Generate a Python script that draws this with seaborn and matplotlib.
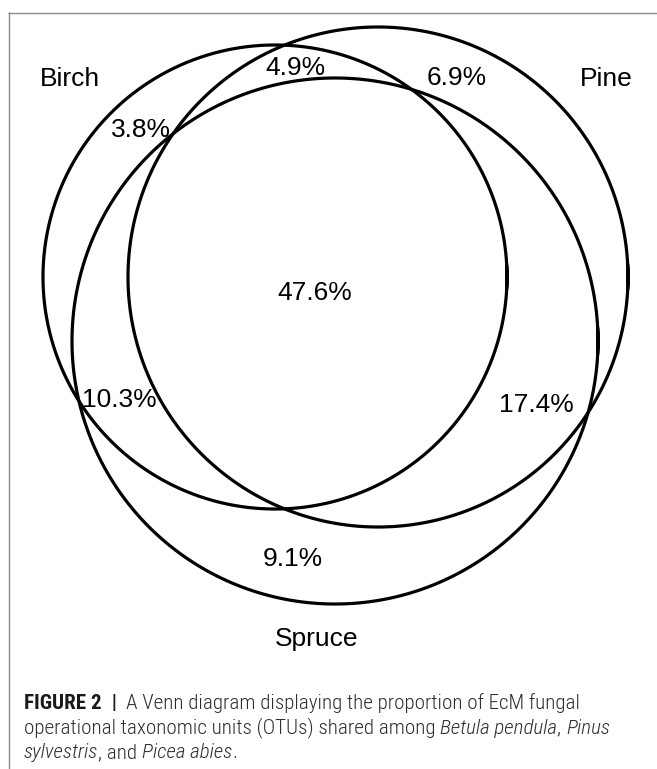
import numpy as np
import pandas as pd
import matplotlib
matplotlib.use("Agg")
import matplotlib.pyplot as plt
import seaborn as sns
from matplotlib import font_manager

# ---------------- data ----------------
set_names = ["Birch", "Pine", "Spruce"]
region_labels = ["Birch only", "Birch & Pine", "Pine only", "All three",
                 "Birch & Spruce", "Pine & Spruce", "Spruce only"]
region_values = [3.8, 4.9, 6.9, 47.6, 10.3, 17.4, 9.1]

# ---------------- layout (pixel space) ----------------
circle_cx = [275, 378, 335]
circle_cy = [277, 277, 341]
circle_r = [232, 250, 263]
name_x = [70, 606, 317]
name_y = [86, 86, 646]
region_x = [141, 295, 457, 315, 119, 536, 293]
region_y = [137, 75, 85, 300, 407, 412, 566]

W, H = 657, 769
sns.set_theme(style="white")
avail = {f.name for f in font_manager.fontManager.ttflist}
main_font = ["Liberation Sans", "DejaVu Sans"]
cap_candidates = ["Roboto Condensed", "Liberation Sans Narrow", "Open Sans Condensed", "Roboto"]
cap_font = [f for f in cap_candidates if f in avail][:1] + ["Liberation Sans", "DejaVu Sans"]
plt.rcParams["font.family"] = main_font
plt.rcParams["path.simplify"] = False

fig = plt.figure(figsize=(W / 100, H / 100), dpi=100)
ax = fig.add_axes([0, 0, 1, 1])

# circle outlines through seaborn (slight overlap so the seam is hidden)
theta = np.linspace(-0.05, 2 * np.pi + 0.05, 1201)
rows = []
for name, cx, cy, r in zip(set_names, circle_cx, circle_cy, circle_r):
    rows.append(pd.DataFrame({"set": name, "x": cx + r * np.cos(theta), "y": cy + r * np.sin(theta)}))
df = pd.concat(rows, ignore_index=True)
sns.lineplot(data=df, x="x", y="y", units="set", estimator=None, sort=False,
             color="black", linewidth=2.3, ax=ax, legend=False)
for ln in ax.lines:
    ln.set_solid_capstyle("round")
    ln.set_solid_joinstyle("round")

ax.set_xlim(0, W)
ax.set_ylim(H, 0)
ax.set_aspect("equal")
ax.axis("off")

# frame lines
ax.plot([8, W], [12.5, 12.5], color="#8a8a8a", lw=1.0, solid_capstyle="butt")
ax.plot([8.5, 8.5], [12, H], color="#8a8a8a", lw=1.0, solid_capstyle="butt")

fs = 19
for n, x, y in zip(set_names, name_x, name_y):
    ax.text(x, y, n, ha="center", va="baseline", fontsize=fs, color="black", family=main_font)
for v, x, y in zip(region_values, region_x, region_y):
    ax.text(x, y, f"{v:.1f}%", ha="center", va="baseline", fontsize=fs, color="black", family=main_font)

# ---------------- caption ----------------
renderer = fig.canvas.get_renderer()

def width_of(s, **kw):
    t1 = ax.text(0, 0, "x" + s + "x", **kw)
    t2 = ax.text(0, 0, "xx", **kw)
    w = t1.get_window_extent(renderer).width - t2.get_window_extent(renderer).width
    t1.remove(); t2.remove()
    return w

cap_color = "#2e2e2e"
lines = [
    [("FIGURE 2", "bold", "normal", "#1a1a1a"), ("  |  ", "bold", "normal", "#1a1a1a"),
     ("A Venn diagram displaying the proportion of EcM fungal", "light", "normal", cap_color)],
    [("operational taxonomic units (OTUs) shared among ", "light", "normal", cap_color),
     ("Betula pendula", "light", "italic", cap_color), (", ", "light", "normal", cap_color),
     ("Pinus", "light", "italic", cap_color)],
    [("sylvestris", "light", "italic", cap_color), (", and ", "light", "normal", cap_color),
     ("Picea abies", "light", "italic", cap_color), (".", "light", "normal", cap_color)],
]

def line_width(line, size):
    return sum(width_of(s, fontsize=size, fontweight=w, fontstyle=st, family=cap_font) for s, w, st, c in line)

base = 12
w1 = line_width(lines[0], base)
cap_fs = base * (581 - 24) / w1

baselines = [709, 733.5, 758]
for line, yb in zip(lines, baselines):
    x = 24
    for s, w, st, c in line:
        ax.text(x, yb, s, ha="left", va="baseline", fontsize=cap_fs, fontweight=w,
                fontstyle=st, color=c, family=cap_font)
        x += width_of(s, fontsize=cap_fs, fontweight=w, fontstyle=st, family=cap_font)

fig.savefig("out.png", dpi=100, facecolor="white")
